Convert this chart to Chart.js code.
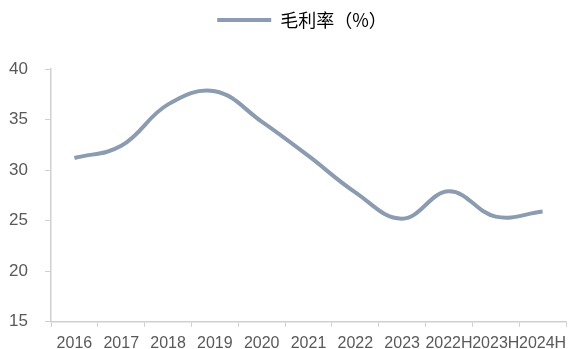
<!DOCTYPE html>
<html>
<head>
<meta charset="utf-8">
<script src="https://cdn.jsdelivr.net/npm/chart.js@4/dist/chart.umd.min.js"></script>
<style>
  html, body { margin: 0; padding: 0; background: #fff; }
  #wrap { width: 568px; height: 349px; }
</style>
</head>
<body>
<div id="wrap"><canvas id="myChart"></canvas></div>
<script>
const years = ["2016", "2017", "2018", "2019", "2020", "2021", "2022", "2023", "2022H", "2023H", "2024H"];
const grossMargin = [31.2, 32.4, 36.5, 37.8, 34.8, 31.4, 27.8, 25.2, 27.9, 25.4, 25.9];
const yTicks = [15, 20, 25, 30, 35, 40];

const textColor = '#595959';
const axisColor = '#d0d0d0';
const fontFamily = "'Liberation Sans', Arial, sans-serif";

// extra room under the legend, and nudge it right over the plot
const legendSpacer = {
    id: 'legendSpacer',
    beforeInit(chart) {
        const fit = chart.legend.fit;
        chart.legend.fit = function() {
            fit.bind(chart.legend)();
            this.height += 30;
        };
    },
    afterLayout(chart) {
        chart.legend.left += 19;
        chart.legend.right += 19;
    }
};

let ctx = document.getElementById("myChart").getContext('2d');
let myChart = new Chart(ctx, {
    type: 'line',
    data: {
        labels: years,
        datasets: [{
            label: '毛利率（%）',
            data: grossMargin,
            borderColor: '#8c9cb0',
            backgroundColor: '#8c9cb0',
            borderWidth: 4,
            pointRadius: 0,
            tension: 0.4,
            fill: false
        }]
    },
    plugins: [legendSpacer],
    options: {
        responsive: true,
        maintainAspectRatio: false,
        animation: false,
        layout: {
            padding: { left: 0, right: 2, top: 1, bottom: 0 }
        },
        plugins: {
            legend: {
                display: true,
                position: 'top',
                labels: {
                    color: textColor,
                    font: { size: 18, family: "'Noto Sans CJK SC', sans-serif" },
                    boxWidth: 54,
                    boxHeight: 0,
                    padding: 10,
                    generateLabels: function(chart) {
                        const ds = chart.data.datasets[0];
                        return [{
                            text: ds.label,
                            strokeStyle: ds.borderColor,
                            fillStyle: ds.borderColor,
                            lineWidth: 4,
                            lineCap: 'round',
                            datasetIndex: 0
                        }];
                    }
                }
            },
            tooltip: { enabled: false }
        },
        scales: {
            x: {
                offset: true,
                afterFit: function(axis) {
                    axis.height = 27;
                    axis.paddingRight = 0;
                },
                grid: {
                    display: true,
                    drawOnChartArea: false,
                    drawTicks: true,
                    tickLength: 5,
                    color: axisColor,
                    offset: true
                },
                border: { display: true, color: axisColor, width: 1.5 },
                ticks: {
                    color: textColor,
                    font: { size: 16, family: fontFamily },
                    autoSkip: false,
                    maxRotation: 0,
                    padding: 7
                }
            },
            y: {
                min: 15,
                max: 40,
                afterBuildTicks: function(axis) {
                    axis.ticks = yTicks.map(v => ({ value: v }));
                },
                afterFit: function(axis) { axis.width = 51; },
                grid: {
                    display: true,
                    drawOnChartArea: false,
                    drawTicks: true,
                    tickLength: 6,
                    color: axisColor
                },
                border: { display: true, color: axisColor, width: 1.5 },
                ticks: {
                    color: textColor,
                    font: { size: 17, family: fontFamily },
                    padding: 17
                }
            }
        }
    }
});
</script>
</body>
</html>
